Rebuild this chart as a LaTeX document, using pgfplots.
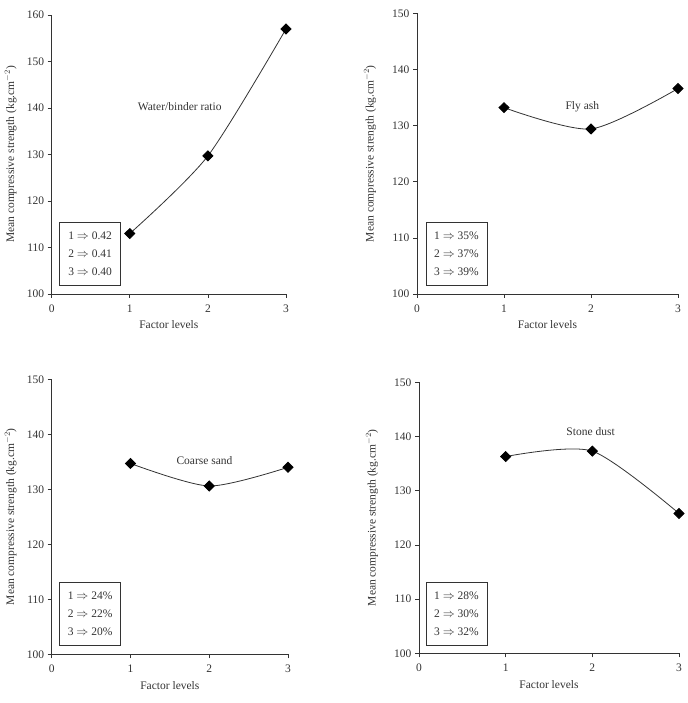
\documentclass[border=0pt]{standalone}
\usepackage{fontspec}
\setmainfont{Liberation Serif}
\usepackage{pgfplots}
\pgfplotsset{compat=1.18}
\definecolor{ink}{HTML}{333333}

\pgfplotsset{
  panel/.style={
    scale only axis,
    axis x line*=bottom, axis y line*=left,
    axis line style={ink, line width=0.7pt},
    tick style={ink, line width=0.7pt},
    tick align=outside,
    major tick length=4pt,
    xmin=0, xmax=3, ymin=100,
    xtick={0,1,2,3},
    x tick label style={font=\fontsize{11.5}{13}\selectfont, text=ink, yshift=-3pt},
    y tick label style={font=\fontsize{11.5}{13}\selectfont, text=ink},
    /pgf/number format/assume math mode=true,
    every axis x label/.style={at={(axis description cs:0.5,0)}, yshift=-31pt, anchor=center,
      font=\fontsize{11.5}{13}\selectfont, text=ink},
    ylabshift/.initial=-47pt,
    every axis y label/.style={at={(axis description cs:0,0.5)},
      xshift=\pgfkeysvalueof{/pgfplots/ylabshift}, rotate=90, anchor=center,
      font=\fontsize{11.5}{13}\selectfont, text=ink, inner sep=1pt},
    xlabel={Factor levels},
    ylabel={Mean compressive strength (kg.cm$^{-2}$)},
    clip=false,
  },
  leftpanel/.style={ylabshift=-41pt},
  series/.style={ink, line width=0.8pt, smooth, tension=0.45,
    mark=diamond*, mark size=5pt, mark options={xscale=1.35, fill=black, draw=black}},
}
\tikzset{
  keybox/.style={draw=ink, line width=0.6pt, anchor=south west, minimum width=61pt, minimum height=63pt,
    align=left, font=\fontsize{11.5}{18.3}\selectfont, text=ink},
  tag/.style={font=\fontsize{11.5}{13}\selectfont, text=ink},
}

\begin{document}
\begin{tikzpicture}
% Water/binder ratio
\begin{axis}[panel, leftpanel, at={(51.7pt,409pt)}, anchor=south west, width=234.3pt, height=279pt,
  ymax=160, ytick={100,110,...,160}]
  \addplot[series] coordinates {(1,113.0) (2,129.7) (3,157.0)};
  \node[tag] at (axis cs:1.64,140.2) {Water/binder ratio};
  \node[keybox] at (axis cs:0.097,101.8) {1 $\Rightarrow$ 0.42\\2 $\Rightarrow$ 0.41\\3 $\Rightarrow$ 0.40};
\end{axis}
% Fly ash
\begin{axis}[panel, at={(417pt,409pt)}, anchor=south west, width=261pt, height=280.7pt,
  ymax=150, ytick={100,110,...,150}]
  \addplot[series] coordinates {(1,133.2) (2,129.4) (3,136.6)};
  \node[tag] at (axis cs:1.90,133.4) {Fly ash};
  \node[keybox] at (axis cs:0.10,101.5) {1 $\Rightarrow$ 35\%\\2 $\Rightarrow$ 37\%\\3 $\Rightarrow$ 39\%};
\end{axis}
% Coarse sand
\begin{axis}[panel, leftpanel, at={(51.7pt,48.7pt)}, anchor=south west, width=236.3pt, height=275pt,
  ymax=150, ytick={100,110,...,150}]
  \addplot[series] coordinates {(1,134.7) (2,130.6) (3,134.0)};
  \node[tag] at (axis cs:1.94,135.3) {Coarse sand};
  \node[keybox] at (axis cs:0.096,101.6) {1 $\Rightarrow$ 24\%\\2 $\Rightarrow$ 22\%\\3 $\Rightarrow$ 20\%};
\end{axis}
% Stone dust
\begin{axis}[panel, at={(419pt,49.7pt)}, anchor=south west, width=260pt, height=271pt,
  ymax=150, ytick={100,110,...,150}]
  \addplot[series] coordinates {(1,136.3) (2,137.3) (3,125.8)};
  \node[tag] at (axis cs:1.98,140.9) {Stone dust};
  \node[keybox] at (axis cs:0.077,101.4) {1 $\Rightarrow$ 28\%\\2 $\Rightarrow$ 30\%\\3 $\Rightarrow$ 32\%};
\end{axis}
\pgfresetboundingbox
\path[use as bounding box] (0pt,0pt) rectangle (687pt,703pt);
\end{tikzpicture}
\end{document}
